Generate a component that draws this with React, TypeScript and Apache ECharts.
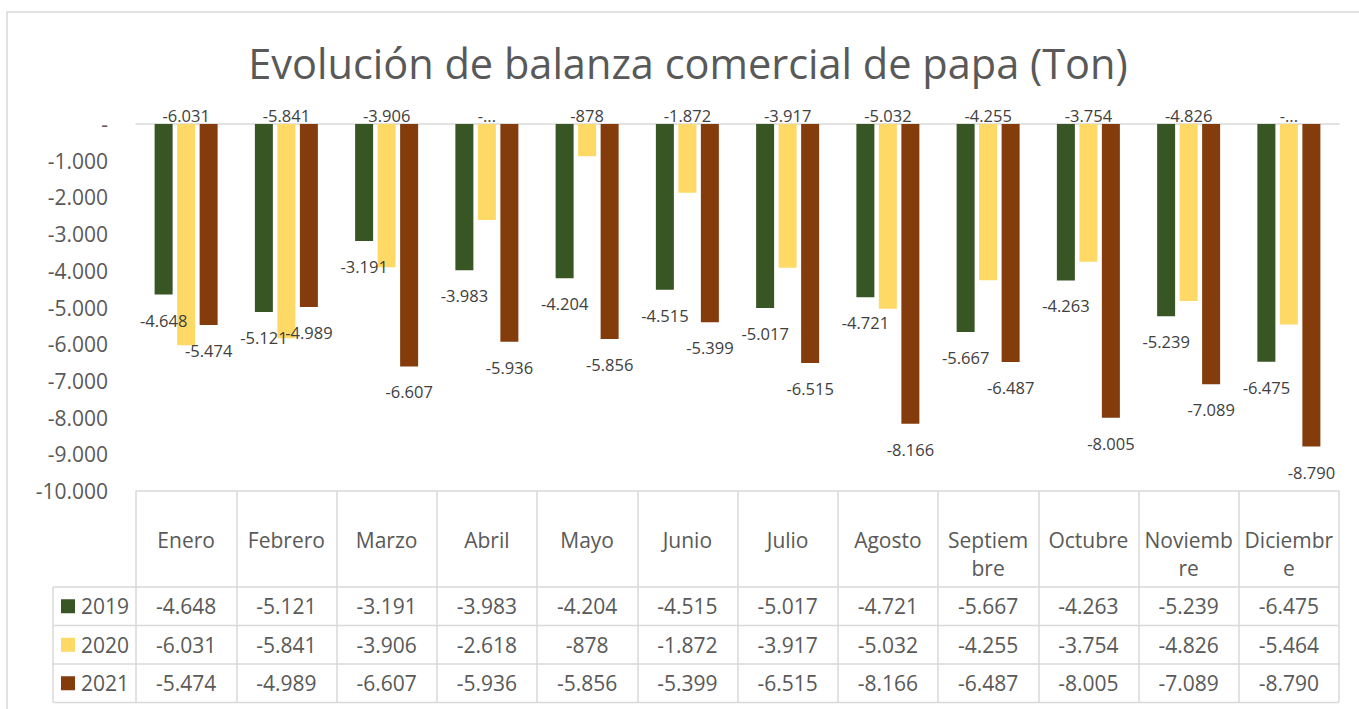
import React, { useEffect, useRef } from 'react';
import * as echarts from 'echarts';

const titleText = 'Evolución de balanza comercial de papa (Ton)';
const categories = ['Enero', 'Febrero', 'Marzo', 'Abril', 'Mayo', 'Junio', 'Julio', 'Agosto', 'Septiembre', 'Octubre', 'Noviembre', 'Diciembre'];
const headerLabels = ['Enero', 'Febrero', 'Marzo', 'Abril', 'Mayo', 'Junio', 'Julio', 'Agosto', 'Septiem\nbre', 'Octubre', 'Noviemb\nre', 'Diciembr\ne'];
const seriesNames = ['2019', '2020', '2021'];
const values2019 = [-4648, -5121, -3191, -3983, -4204, -4515, -5017, -4721, -5667, -4263, -5239, -6475];
const values2020 = [-6031, -5841, -3906, -2618, -878, -1872, -3917, -5032, -4255, -3754, -4826, -5464];
const values2021 = [-5474, -4989, -6607, -5936, -5856, -5399, -6515, -8166, -6487, -8005, -7089, -8790];
const seriesColors = ['#375623', '#FFD966', '#843C0C'];
const truncated2020 = [3, 11];
const yMin = -10000;
const yMax = 0;
const yInterval = 1000;

const FONT = '"Open Sans", "Noto Sans", sans-serif';
const GREY = '#595959';
const LABEL = '#404040';
const LINE = '#D9D9D9';

function fmt(v: number): string {
  if (v === 0) return '-';
  const s = Math.abs(v).toString().replace(/\B(?=(\d{3})+(?!\d))/g, '.');
  return (v < 0 ? '-' : '') + s;
}

export default function App() {
  const ref = useRef<HTMLDivElement>(null);
  useEffect(() => {
    if (!ref.current) return;
    const chart = echarts.init(ref.current, null, { renderer: 'svg' });
    const allValues = [values2019, values2020, values2021];
    const labelCfg = [
      { position: 'bottom', distance: 17 },
      { position: 'top', distance: 0 },
      { position: 'bottom', distance: 17 },
    ];
    chart.setOption({
      animation: false,
      backgroundColor: '#ffffff',
      textStyle: { fontFamily: FONT },
      grid: { left: 136, top: 124, width: 1203, height: 367, containLabel: false },
      xAxis: [
        {
          type: 'category',
          data: categories,
          position: 'bottom',
          boundaryGap: true,
          axisLine: { show: true, onZero: false, lineStyle: { color: LINE, width: 1.5 } },
          axisTick: { show: true, interval: 0, length: 211, lineStyle: { color: LINE, width: 1.5 } },
          axisLabel: {
            interval: 0,
            margin: 35,
            fontSize: 21,
            lineHeight: 28,
            color: GREY,
            fontFamily: FONT,
            formatter: (_v: string, i: number) => headerLabels[i],
          },
          splitLine: { show: false },
        },
        {
          type: 'category',
          data: categories,
          position: 'top',
          axisLine: { show: true, onZero: false, lineStyle: { color: LINE, width: 1.5 } },
          axisTick: { show: false },
          axisLabel: { show: false },
          splitLine: { show: false },
        },
      ],
      yAxis: {
        type: 'value',
        min: yMin,
        max: yMax,
        interval: yInterval,
        axisLine: { show: false },
        axisTick: { show: false },
        splitLine: { show: false },
        axisLabel: {
          margin: 28,
          fontSize: 21,
          color: GREY,
          fontFamily: FONT,
          formatter: (v: number) => fmt(v),
        },
      },
      series: seriesNames.map((name, s) => ({
        name,
        type: 'bar',
        xAxisIndex: 0,
        data: allValues[s],
        barWidth: 18,
        barGap: '25%',
        itemStyle: { color: seriesColors[s] },
        label: {
          show: true,
          position: labelCfg[s].position,
          distance: labelCfg[s].distance,
          fontSize: 16.5,
          color: LABEL,
          fontFamily: FONT,
          formatter: (p: any) =>
            s === 1 && truncated2020.indexOf(p.dataIndex) >= 0 ? '-...' : fmt(p.value),
        },
      })),
    });

    const xs = categories.map((_, i) => chart.convertToPixel({ xAxisIndex: 0 }, i) as number);
    const step = xs[1] - xs[0];
    const xRight = xs[xs.length - 1] + step / 2;
    const yBottom = chart.convertToPixel({ yAxisIndex: 0 }, yMin) as number;
    const headerH = 96;
    const rowH = 38.5;
    const rowTop = yBottom + headerH;
    const legendLeft = 53;

    const graphics: any[] = [];
    graphics.push({
      type: 'rect',
      shape: { x: 7, y: 12, width: 1400, height: 760 },
      style: { fill: 'none', stroke: LINE, lineWidth: 1.5 },
      silent: true,
    });
    graphics.push({
      type: 'text',
      x: 688,
      y: 63,
      style: {
        text: titleText,
        align: 'center',
        verticalAlign: 'middle',
        fontSize: 41.5,
        fill: GREY,
        fontFamily: FONT,
      },
    });
    for (let r = 0; r <= seriesNames.length; r++) {
      const y = rowTop + r * rowH;
      graphics.push({
        type: 'line',
        shape: { x1: legendLeft, y1: y, x2: xRight, y2: y },
        style: { stroke: LINE, lineWidth: 1.5 },
        silent: true,
      });
    }
    graphics.push({
      type: 'line',
      shape: { x1: legendLeft, y1: rowTop, x2: legendLeft, y2: rowTop + rowH * seriesNames.length },
      style: { stroke: LINE, lineWidth: 1.5 },
      silent: true,
    });
    seriesNames.forEach((name, s) => {
      const cy = rowTop + rowH * (s + 0.5);
      graphics.push({
        type: 'rect',
        shape: { x: 61, y: cy - 7, width: 14, height: 14 },
        style: { fill: seriesColors[s] },
        silent: true,
      });
      graphics.push({
        type: 'text',
        x: 81,
        y: cy,
        style: { text: name, align: 'left', verticalAlign: 'middle', fontSize: 21, fill: GREY, fontFamily: FONT },
        silent: true,
      });
      allValues[s].forEach((v, i) => {
        graphics.push({
          type: 'text',
          x: xs[i],
          y: cy,
          style: { text: fmt(v), align: 'center', verticalAlign: 'middle', fontSize: 21, fill: GREY, fontFamily: FONT },
          silent: true,
        });
      });
    });
    chart.setOption({ graphic: graphics });

    return () => chart.dispose();
  }, []);

  return (
    <div
      ref={ref}
      style={{ position: 'fixed', left: 0, top: 0, width: 1359, height: 709, background: '#fff' }}
    />
  );
}
